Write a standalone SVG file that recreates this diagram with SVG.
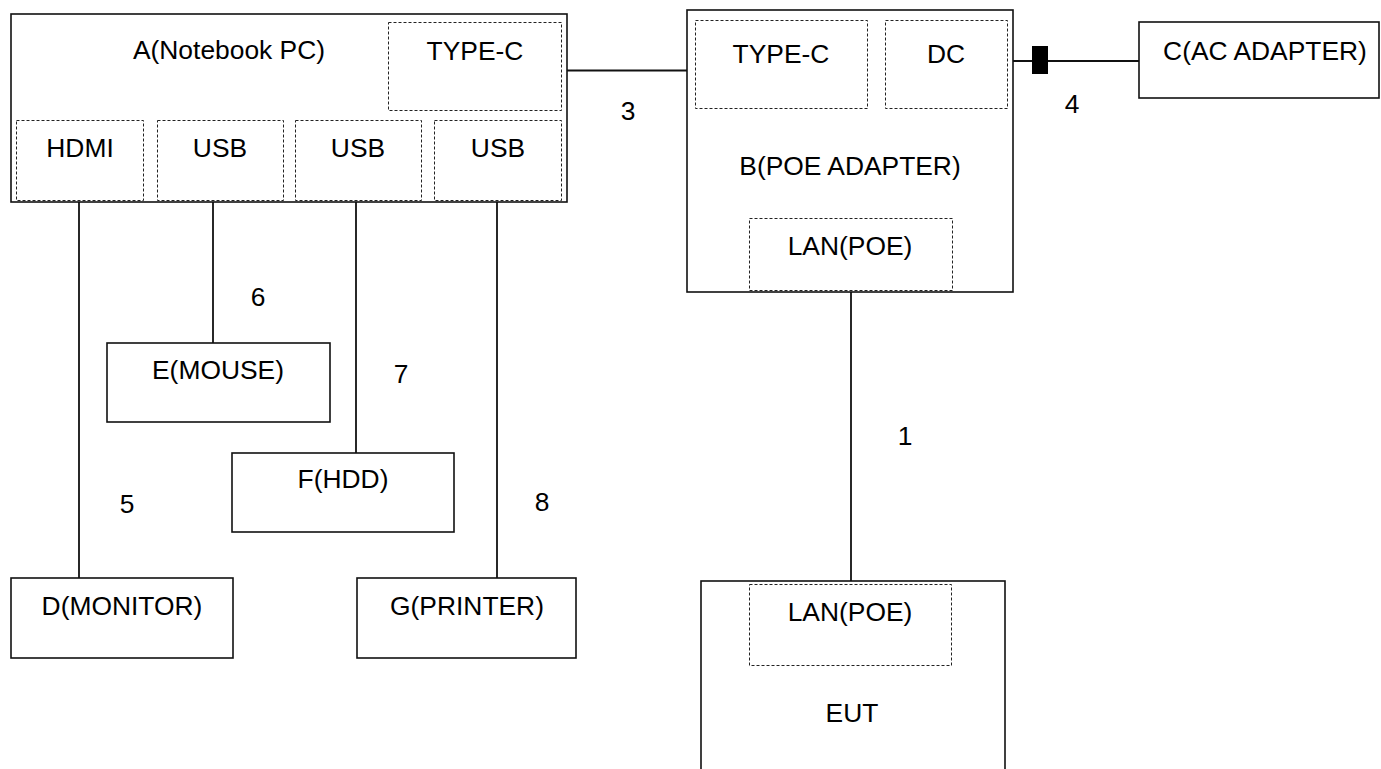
<svg xmlns="http://www.w3.org/2000/svg" width="1381" height="769" viewBox="0 0 1381 769">
<style>
.box{fill:#fff;stroke:#111;stroke-width:1.6}
.port{fill:none;stroke:#222;stroke-width:1;stroke-dasharray:3 2}
.t{font-family:"Liberation Sans",Arial,sans-serif;font-size:26.4px;fill:#000;text-anchor:middle}
.ln{stroke:#111;stroke-width:1.8;fill:none}
</style>
<rect width="1381" height="769" fill="#fff"/>
<g id="connectors">
<line class="ln" x1="567" y1="70.5" x2="695" y2="70.5"/>
<line class="ln" x1="1007" y1="61" x2="1139" y2="61"/>
<rect x="1032" y="46" width="16" height="28" fill="#000"/>
<line class="ln" x1="851" y1="292" x2="851" y2="581"/>
<line class="ln" x1="79" y1="201" x2="79" y2="578"/>
<line class="ln" x1="213" y1="201" x2="213" y2="343"/>
<line class="ln" x1="356" y1="201" x2="356" y2="453"/>
<line class="ln" x1="497" y1="201" x2="497" y2="578"/>
<text class="t" x="628" y="120">3</text>
<text class="t" x="1072" y="113">4</text>
<text class="t" x="905" y="445">1</text>
<text class="t" x="258" y="306">6</text>
<text class="t" x="401" y="383">7</text>
<text class="t" x="127" y="513">5</text>
<text class="t" x="542" y="511">8</text>
</g>
<g id="nodeA">
<rect class="box" x="11" y="14" width="556" height="188"/>
<text class="t" x="229" y="59">A(Notebook PC)</text>
<rect class="port" x="388.5" y="22.5" width="173" height="88"/>
<text class="t" x="475" y="60">TYPE-C</text>
<rect class="port" x="16.5" y="120.5" width="127" height="80"/>
<text class="t" x="80" y="157">HDMI</text>
<rect class="port" x="157.5" y="120.5" width="126" height="80"/>
<text class="t" x="220" y="157">USB</text>
<rect class="port" x="295.5" y="120.5" width="126" height="80"/>
<text class="t" x="358" y="157">USB</text>
<rect class="port" x="434.5" y="120.5" width="127" height="80"/>
<text class="t" x="498" y="157">USB</text>
</g>
<g id="nodeB">
<rect class="box" x="687" y="10" width="326" height="282"/>
<rect class="port" x="695.5" y="20.5" width="172" height="88"/>
<text class="t" x="781" y="63">TYPE-C</text>
<rect class="port" x="885.5" y="20.5" width="122" height="88"/>
<text class="t" x="946" y="63">DC</text>
<text class="t" x="850" y="175">B(POE ADAPTER)</text>
<rect class="port" x="749.5" y="218.5" width="203" height="72"/>
<text class="t" x="850" y="255">LAN(POE)</text>
</g>
<g id="nodeC">
<rect class="box" x="1139" y="22" width="240" height="76"/>
<text class="t" x="1265" y="60">C(AC ADAPTER)</text>
</g>
<g id="nodeE">
<rect class="box" x="107" y="343" width="223" height="79"/>
<text class="t" x="218" y="379">E(MOUSE)</text>
</g>
<g id="nodeF">
<rect class="box" x="232" y="453" width="222" height="79"/>
<text class="t" x="343" y="488">F(HDD)</text>
</g>
<g id="nodeD">
<rect class="box" x="11" y="578" width="222" height="80"/>
<text class="t" x="122" y="615">D(MONITOR)</text>
</g>
<g id="nodeG">
<rect class="box" x="357" y="578" width="219" height="80"/>
<text class="t" x="467" y="615">G(PRINTER)</text>
</g>
<g id="nodeEUT">
<rect class="box" x="701" y="581" width="304" height="200"/>
<rect class="port" x="749.5" y="584.5" width="202" height="81"/>
<text class="t" x="850" y="621">LAN(POE)</text>
<text class="t" x="852" y="722">EUT</text>
</g>
</svg>
